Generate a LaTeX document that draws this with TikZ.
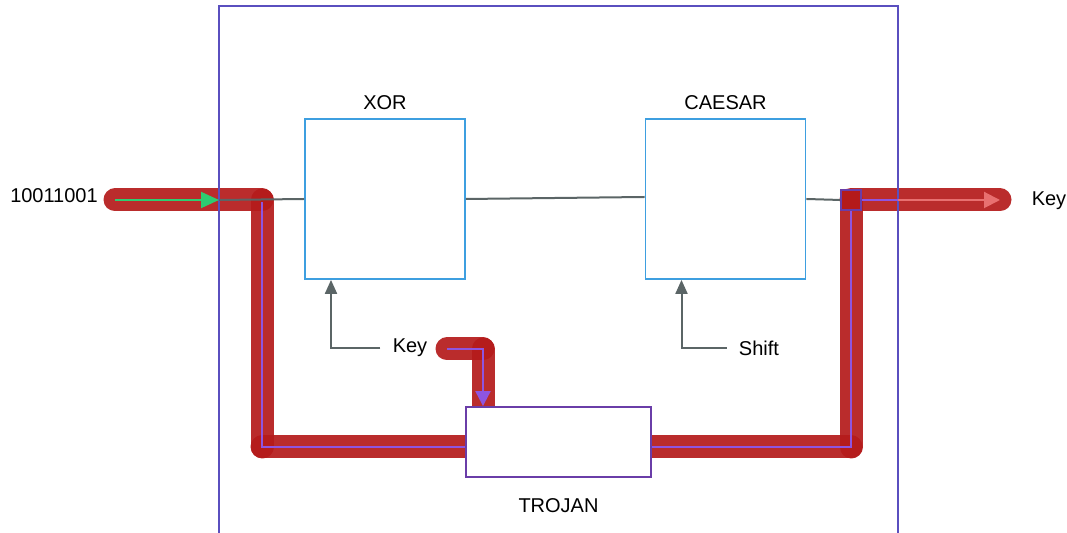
\documentclass[tikz,border=0pt]{standalone}
\usepackage{fontspec}
\setmainfont{Liberation Sans}
\usetikzlibrary{arrows.meta,positioning,backgrounds}
\definecolor{Frame}{HTML}{5A4FBF}
\definecolor{Cipher}{HTML}{3E9FE0}
\definecolor{Wire}{HTML}{5B6566}
\definecolor{Leak}{HTML}{B41A1A}
\definecolor{Tap}{HTML}{8E55E0}
\definecolor{TrojanEdge}{HTML}{6A3DA8}
\definecolor{Signal}{HTML}{2ECC71}
\definecolor{Exit}{HTML}{E87070}
\tikzset{
  label/.style={font=\fontsize{10}{12}\selectfont,text=black,inner sep=0pt},
  cipher/.style={draw=Cipher,line width=0.9pt,fill=white,minimum width=80pt,minimum height=80pt,inner sep=0pt},
  trojan/.style={draw=TrojanEdge,line width=0.9pt,fill=white,minimum width=92.5pt,minimum height=35pt,inner sep=0pt},
  wire/.style={draw=Wire,line width=1pt},
  wirearr/.style={wire,-{Triangle[length=7pt,width=6pt]}},
  leak/.style={draw=Leak,line width=11.5pt,line cap=round,opacity=0.92},
  tap/.style={draw=Tap,line width=1pt},
  taparr/.style={tap,-{Triangle[length=7.5pt,width=7.5pt]}}
}

\begin{document}
\begin{tikzpicture}[x=0.5pt,y=-0.5pt]
  \useasboundingbox (0,0) rectangle (1067,533);
  % outer frame
  \draw[Frame,line width=1pt] (219,545) -- (219,6) -- (898,6) -- (898,545);
  % ciphers
  \node[cipher] (xor) at (385,199) {};
  \node[cipher] (caesar) at (725.5,199) {};
  \node[label,above=4pt of xor] (xort) {XOR};
  \node[label,above=4pt of caesar] (caesart) {CAESAR};
  \node[trojan] (troj) at (558.5,442) {};
  \node[label,below=10pt of troj] (trojt) {TROJAN};
  % text
  \node[label] (inp) at (54,196) {10011001};
  \node[label] (outk) at (1049,201) {Key};
  \node[label] (keyt) at (410,348) {Key};
  \node[label] (shiftt) at (759,348) {Shift};
  % points
  \coordinate (s) at (115,200);
  \coordinate (fin) at (219,200);
  \coordinate (c1) at (262,200);
  \coordinate (c2) at (262,447);
  \coordinate (c3) at (851,447);
  \coordinate (c4) at (851,200);
  \coordinate (e) at (1000,200);
  \coordinate (fout) at (898,200);
  \coordinate (k1) at (447,349);
  \coordinate (k2) at (483,349);
  % red leak path, under the boxes
  \begin{scope}[on background layer]
    \draw[leak] (s) -- (c1);
    \draw[leak] (c1) -- (c2);
    \draw[leak] (c2) -- (troj.center |- c2);
    \draw[leak] (troj.center |- c3) -- (c3);
    \draw[leak] (c3) -- (c4);
    \draw[leak] (c4) -- (e);
    \draw[leak] (k1) -- (k2);
    \draw[leak] (k2) -- ([yshift=-5pt]troj.north -| k2);
  \end{scope}
  % data wires
  \draw[wire] (fin) -- (xor.west);
  \draw[wire] (xor.east) -- ([yshift=1pt]caesar.west);
  \draw[wire] (caesar.east) -- (841,200);
  \draw[-{Triangle[length=9pt,width=8pt]},draw=Signal,line width=1pt] (s) -- (fin);
  \draw[wirearr] (keyt.west) ++(-6pt,0) -| ([xshift=-27pt]xor.south);
  \draw[wirearr] (shiftt.west) ++(-6pt,0) -| ([xshift=-22pt]caesar.south);
  % trojan taps
  \draw[tap] ([yshift=-1pt]c1) -- (c2) -- (troj.west |- c2);
  \draw[tap] (troj.east |- c3) -- (c3) -- ([yshift=-5pt]c4);
  \node[draw=TrojanEdge,fill=Leak,line width=0.8pt,minimum size=10pt,inner sep=0pt] (sq) at (c4) {};
  \draw[tap] (sq.east) -- (fout);
  \draw[-{Triangle[length=8pt,width=8pt]},draw=Exit,line width=1pt] (fout) -- (e);
  \draw[taparr] (k1) -- (k2) -- (troj.north -| k2);
\end{tikzpicture}
\end{document}
